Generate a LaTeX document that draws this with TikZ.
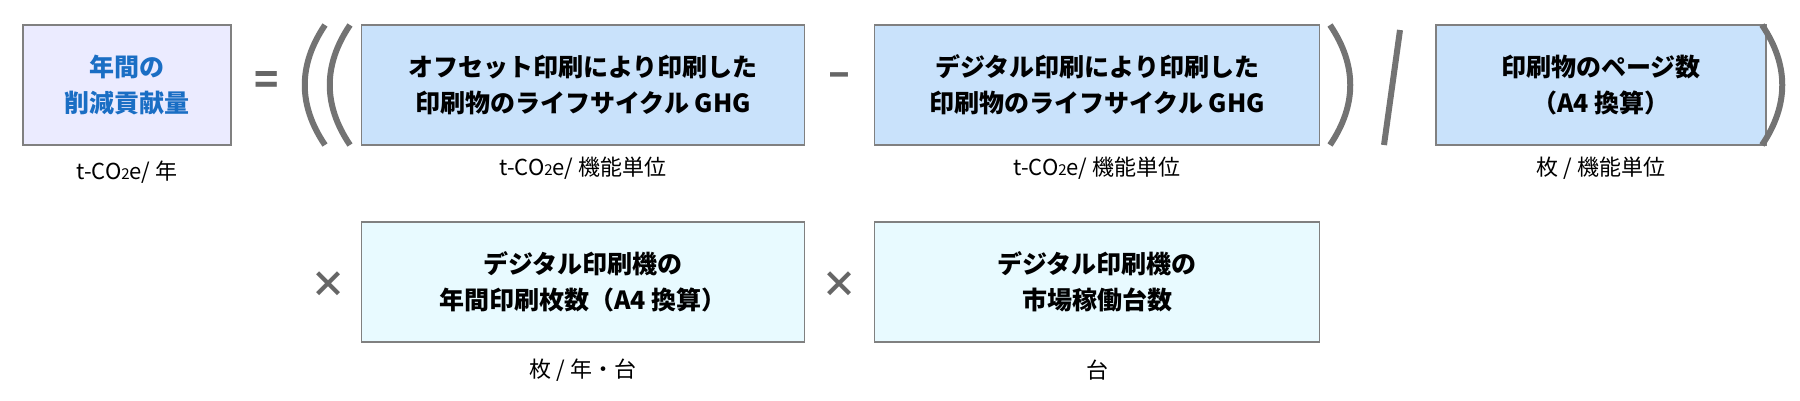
\documentclass[tikz,border=0pt]{standalone}
\usepackage{fontspec}
\setmainfont{Noto Sans CJK JP}
\newfontfamily\jpb{Noto Sans CJK JP}[FakeBold=1.5]
\begin{document}
\begin{tikzpicture}[x=1pt,y=1pt,
  box/.style={draw=black!50,line width=1.5pt,minimum height=120pt,align=center,inner sep=0pt,font=\fontsize{25}{36}\selectfont\bfseries},
  lab/.style={font=\fontsize{22}{26}\selectfont},
  op/.style={text=black!60,font=\fontsize{40}{40}\selectfont\bfseries},
  paren/.style={draw=black!55,line width=6pt}]
\useasboundingbox (0,0) rectangle (1800,-400);
\node[box,fill=blue!8!white,text={rgb,255:red,26;green,110;blue,196},minimum width=208pt] (a) at (127,-85) {年間の\\削減貢献量};
\node[box,fill={rgb,255:red,201;green,226;blue,251},minimum width=443pt] (b) at (583,-85) {オフセット印刷により印刷した\\印刷物のライフサイクル GHG};
\node[box,fill={rgb,255:red,201;green,226;blue,251},minimum width=445pt] (c) at (1097,-85) {デジタル印刷により印刷した\\印刷物のライフサイクル GHG};
\node[box,fill={rgb,255:red,201;green,226;blue,251},minimum width=330pt] (d) at (1601,-85) {印刷物のページ数\\（A4 換算）};
\node[box,fill={rgb,255:red,232;green,250;blue,255},minimum width=443pt] (e) at (583,-282) {デジタル印刷機の\\年間印刷枚数（A4 換算）};
\node[box,fill={rgb,255:red,232;green,250;blue,255},minimum width=445pt] (f) at (1097,-282) {デジタル印刷機の\\市場稼働台数};
\node[lab] (la) at (127,-172) {t-CO{\fontsize{15}{15}\selectfont 2}e/ 年};
\node[lab] (lb) at (583,-168) {t-CO{\fontsize{15}{15}\selectfont 2}e/ 機能単位};
\node[lab] (lc) at (1097,-168) {t-CO{\fontsize{15}{15}\selectfont 2}e/ 機能単位};
\node[lab] (ld) at (1601,-168) {枚 / 機能単位};
\node[lab] (le) at (583,-370) {枚 / 年・台};
\node[lab] (lf) at (1097,-370) {台};
\node[op] (eq) at (267,-83) {=};
\node[op] (mi) at (839,-80) {–};
\node[op,font=\fontsize{36}{36}\selectfont\bfseries] (x1) at (328,-285) {×};
\node[op,font=\fontsize{36}{36}\selectfont\bfseries] (x2) at (839,-285) {×};
\draw[paren] (325,-25) .. controls (298,-65) and (298,-105) .. (325,-145);
\draw[paren] (350,-25) .. controls (323,-65) and (323,-105) .. (350,-145);
\draw[paren] (1330,-25) .. controls (1357,-65) and (1357,-105) .. (1330,-145);
\draw[paren] (1400,-30) -- (1384,-145);
\draw[paren] (1762,-25) .. controls (1789,-65) and (1789,-105) .. (1762,-145);
\end{tikzpicture}
\end{document}
